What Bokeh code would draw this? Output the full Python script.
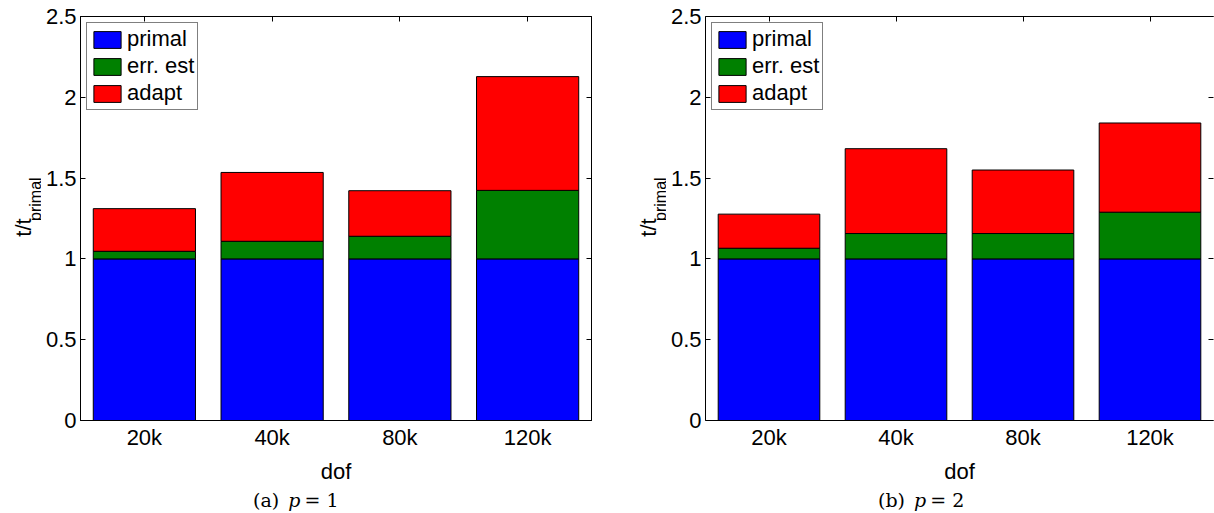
import math
from bokeh.plotting import figure
from bokeh.layouts import row, column
from bokeh.models import (ColumnDataSource, LinearAxis, CategoricalAxis, FixedTicker,
                          NumeralTickFormatter, CustomJSTickFormatter, Range1d, Div)
from bokeh.core.properties import value
from bokeh.embed import file_html
from bokeh.resources import INLINE

# ---------------- data ----------------
dof = ["20k", "40k", "80k", "120k"]
series = ["primal", "err. est", "adapt"]
colors = ["#0000ff", "#008000", "#ff0000"]

p1_primal = [1.0, 1.0, 1.0, 1.0]
p1_err_est = [0.047, 0.109, 0.140, 0.424]
p1_adapt = [0.264, 0.426, 0.282, 0.704]

p2_primal = [1.0, 1.0, 1.0, 1.0]
p2_err_est = [0.066, 0.157, 0.157, 0.289]
p2_adapt = [0.211, 0.525, 0.393, 0.552]

y_ticks = [0, 0.5, 1, 1.5, 2, 2.5]
y_label = ["t/t", "primal"]
captions = [("(a)", "p", "=", "1"), ("(b)", "p", "=", "2")]

SANS = "Liberation Sans"
SERIF = "DejaVu Serif"
FS = "22px"
TOP_H = 488


def make(primal, err, adapt, fw, right, spine):
    src = ColumnDataSource(dict(dof=dof, primal=primal, err=err, adapt=adapt))
    p = figure(x_range=dof, y_range=Range1d(0, 2.5), frame_width=fw, frame_height=404,
               min_border_left=39, min_border_right=right, min_border_top=16,
               min_border_bottom=TOP_H - 16 - 404, output_backend="svg",
               toolbar_location=None,
               background_fill_color="white", border_fill_color="white")
    p.vbar_stack(["primal", "err", "adapt"], x="dof", width=0.8, source=src,
                 fill_color=colors, line_color="black", line_width=1,
                 legend_label=series)
    p.xgrid.grid_line_color = None
    p.ygrid.grid_line_color = None
    p.outline_line_color = "black" if spine else None

    # bottom axis
    xa = p.xaxis[0]
    xa.major_tick_in = 0
    xa.major_tick_out = 0
    xa.major_label_standoff = 4
    xa.major_label_text_font = SANS
    xa.major_label_text_font_size = FS
    xa.major_label_text_color = "black"
    xa.axis_line_color = "black"
    xa.axis_label = "dof"
    xa.axis_label_text_font = SANS
    xa.axis_label_text_font_size = FS
    xa.axis_label_text_font_style = "normal"
    xa.axis_label_text_color = "black"
    xa.axis_label_standoff = 6

    # left axis
    ya = p.yaxis[0]
    ya.ticker = FixedTicker(ticks=y_ticks)
    ya.formatter = NumeralTickFormatter(format="0.[0]")
    ya.major_tick_in = 5
    ya.major_tick_out = 0
    ya.minor_tick_in = 0
    ya.minor_tick_out = 0
    ya.major_label_standoff = 4
    ya.major_label_text_font = SANS
    ya.major_label_text_font_size = FS
    ya.major_label_text_color = "black"
    ya.axis_line_color = "black"

    blank = CustomJSTickFormatter(code="return ''")
    # top axis (ticks only)
    top = CategoricalAxis(major_tick_in=5, major_tick_out=0, major_label_standoff=0,
                          formatter=blank, major_label_text_font_size="10px",
                          axis_line_color="black")
    p.add_layout(top, "above")
    # right axis (ticks only)
    ra = LinearAxis(ticker=FixedTicker(ticks=y_ticks), major_tick_in=5, major_tick_out=0,
                    minor_tick_in=0, minor_tick_out=0, major_label_standoff=0,
                    formatter=blank, major_label_text_font_size="10px",
                    axis_line_color="black" if spine else None)
    p.add_layout(ra, "right")

    # legend
    lg = p.legend[0]
    lg.location = "top_left"
    lg.margin = 6
    lg.padding = 3
    lg.spacing = 1
    lg.glyph_width = 34
    lg.glyph_height = 21
    lg.label_height = 21
    lg.label_standoff = 3
    lg.label_text_font = SANS
    lg.label_text_font_size = FS
    lg.label_text_color = "black"
    lg.border_line_color = "black"
    lg.border_line_width = 1
    lg.background_fill_alpha = 1.0
    return p


def ylab(width, base_main, base_sub):
    """Narrow canvas holding the rotated y-axis label t/t with subscript."""
    q = figure(width=width, height=TOP_H, x_range=Range1d(0, width),
               y_range=Range1d(0, TOP_H), min_border=0, x_axis_type=None,
               y_axis_type=None, output_backend="svg", toolbar_location=None,
               outline_line_color=None)
    q.xgrid.grid_line_color = None
    q.ygrid.grid_line_color = None
    q.text(x=[base_main], y=[TOP_H - 266], text=[y_label[0]], angle=math.pi / 2,
           text_align="left", text_baseline="alphabetic", text_font=value(SANS),
           text_font_size="22px", text_color="black")
    q.text(x=[base_sub], y=[TOP_H - 247], text=[y_label[1]], angle=math.pi / 2,
           text_align="left", text_baseline="alphabetic", text_font=value(SANS),
           text_font_size="16px", text_color="black")
    return q


def caption(parts, width, pad):
    a, pv, eq, n = parts
    html = (f'<div style="padding-left:{pad}px; font-family:\'{SERIF}\'; font-size:19px; '
            f'line-height:24px; color:black; white-space:nowrap">{a} '
            f'<i style="margin-left:3px">{pv}</i> <span style="margin-left:-2px">{eq}</span> {n}</div>')
    return Div(text=html, width=width, height=24, margin=0)


f1 = make(p1_primal, p1_err_est, p1_adapt, 511, 29, True)
f2 = make(p2_primal, p2_err_est, p2_adapt, 508, 1, False)
y1 = ylab(41, 22.5, 34.5)
y2 = ylab(46, 27.5, 39.5)

layout = column(row(y1, f1, y2, f2, spacing=0),
                row(caption(captions[0], 620, 253), caption(captions[1], 594, 258), spacing=0),
                spacing=0)
open("out.html", "w").write(file_html(layout, INLINE))
